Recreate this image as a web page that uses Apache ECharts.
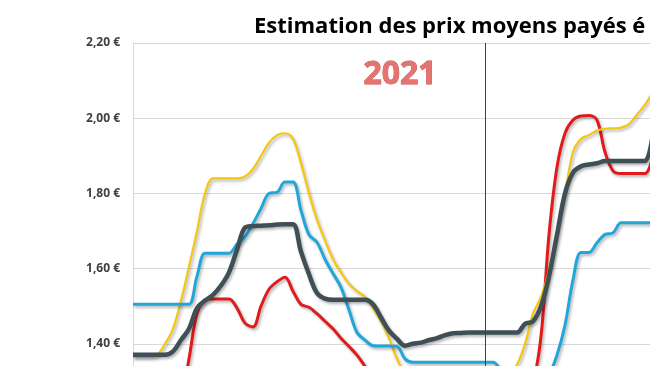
<!DOCTYPE html>
<html>
<head>
<meta charset="utf-8">
<script src="https://cdn.jsdelivr.net/npm/echarts@6/dist/echarts.min.js"></script>
<style>
html,body{margin:0;padding:0;background:#fff;}
#chart{width:650px;height:366px;}
</style>
</head>
<body>
<div id="chart"></div>
<script>
// Weekly points (labels not visible in the cropped picture)
const categories = Array.from({length: 66}, (_, i) => 'S' + (i + 1));

const yellowSeries = [1.365,1.365,1.365,1.37,1.40,1.44,1.515,1.605,1.70,1.80,
  1.84,1.84,1.84,1.84,1.845,1.865,1.90,1.935,1.955,1.96,
  1.945,1.88,1.80,1.73,1.675,1.625,1.59,1.56,1.54,1.525,
  1.495,1.46,1.415,1.36,1.32,1.30,1.29,1.285,1.28,1.28,
  1.28,1.28,1.28,1.28,1.28,1.28,1.285,1.32,1.345,1.40,
  1.48,1.525,1.595,1.70,1.80,1.91,1.945,1.955,1.967,1.972,
  1.973,1.975,1.984,2.01,2.036,2.07];

const blueSeries = [1.505,1.505,1.505,1.505,1.505,1.505,1.505,1.505,1.58,1.641,
  1.641,1.641,1.641,1.665,1.685,1.72,1.76,1.80,1.803,1.83,
  1.83,1.755,1.69,1.67,1.625,1.587,1.55,1.49,1.43,1.41,
  1.395,1.394,1.394,1.393,1.36,1.351,1.351,1.351,1.351,1.351,
  1.351,1.351,1.351,1.351,1.351,1.351,1.33,1.31,1.30,1.30,
  1.30,1.305,1.32,1.37,1.45,1.57,1.643,1.643,1.669,1.691,
  1.695,1.722,1.722,1.722,1.722,1.722];

const redSeries = [1.22,1.22,1.22,1.22,1.22,1.22,1.25,1.36,1.48,1.515,
  1.519,1.519,1.519,1.495,1.455,1.445,1.50,1.545,1.565,1.577,
  1.54,1.505,1.497,1.48,1.46,1.44,1.415,1.393,1.37,1.34,
  1.31,1.29,1.28,1.28,1.28,1.28,1.28,1.28,1.28,1.28,
  1.28,1.28,1.28,1.28,1.28,1.28,1.28,1.28,1.28,1.28,
  1.30,1.42,1.69,1.87,1.96,1.995,2.006,2.007,1.995,1.91,
  1.86,1.853,1.853,1.853,1.853,1.90];

const graySeries = [1.371,1.371,1.371,1.371,1.371,1.38,1.41,1.44,1.495,1.515,
  1.53,1.555,1.59,1.65,1.709,1.713,1.714,1.715,1.717,1.718,
  1.718,1.645,1.585,1.535,1.52,1.517,1.517,1.517,1.517,1.517,
  1.505,1.47,1.435,1.413,1.395,1.40,1.403,1.41,1.415,1.423,
  1.428,1.429,1.43,1.43,1.43,1.43,1.43,1.43,1.43,1.453,
  1.46,1.50,1.58,1.69,1.80,1.855,1.872,1.877,1.88,1.886,
  1.886,1.886,1.886,1.886,1.886,1.96];

const yearBoundary = 'S45';
const titleText = 'Estimation des prix moyens payés é';
const yearLabel = '2021';

const chart = echarts.init(document.getElementById('chart'), null, {renderer: 'canvas'});

function mk(name, data, color, width) {
  return {
    name: name, type: 'line', data: data, smooth: 0.35, symbol: 'none',
    lineStyle: {color: color, width: width, shadowColor: 'rgba(0,0,0,0.3)', shadowBlur: 3, shadowOffsetX: 1.5, shadowOffsetY: 2},
    itemStyle: {color: color}
  };
}

const grayS = mk('Moyenne', graySeries, '#3e4f55', 4.5);
grayS.markLine = {
  silent: true, symbol: ['none', 'none'], label: {show: false},
  lineStyle: {color: '#404040', width: 1, type: 'solid', shadowBlur: 0},
  data: [{xAxis: yearBoundary}]
};

chart.setOption({
  animation: false,
  backgroundColor: '#ffffff',
  title: {
    text: titleText, left: 249, top: 11,
    textStyle: {fontFamily: 'Open Sans', fontWeight: 'bold', fontSize: 22, color: '#000000'}
  },
  graphic: [{
    type: 'text', x: 400, y: 75,
    style: {
      text: yearLabel, align: 'center', verticalAlign: 'middle',
      font: 'bold 32px "Open Sans"', fill: '#e57471', stroke: '#c0504d', lineWidth: 0.8,
      shadowColor: 'rgba(0,0,0,0.35)', shadowBlur: 2, shadowOffsetX: 1, shadowOffsetY: 1.5
    }
  }],
  grid: {left: 133, top: 43, width: 520, height: 376, containLabel: false, outerBoundsMode: 'none'},
  xAxis: {
    type: 'category', data: categories, boundaryGap: false,
    axisLine: {show: false}, axisTick: {show: false}, axisLabel: {show: false}, splitLine: {show: false}
  },
  yAxis: {
    type: 'value', min: 1.2, max: 2.2, interval: 0.2,
    axisLine: {show: true, lineStyle: {color: '#d9d9d9'}},
    axisTick: {show: false},
    splitLine: {lineStyle: {color: '#d9d9d9', width: 1}},
    axisLabel: {
      margin: 13, color: '#404040', fontFamily: 'Open Sans', fontWeight: 'bold', fontSize: 12,
      formatter: v => v.toFixed(2).replace('.', ',') + ' €'
    }
  },
  series: [
    mk('Rouge', redSeries, '#e31a1c', 3),
    mk('Jaune', yellowSeries, '#f5c710', 2.2),
    mk('Bleu', blueSeries, '#1fa7da', 3),
    grayS
  ]
});
</script>
</body>
</html>
